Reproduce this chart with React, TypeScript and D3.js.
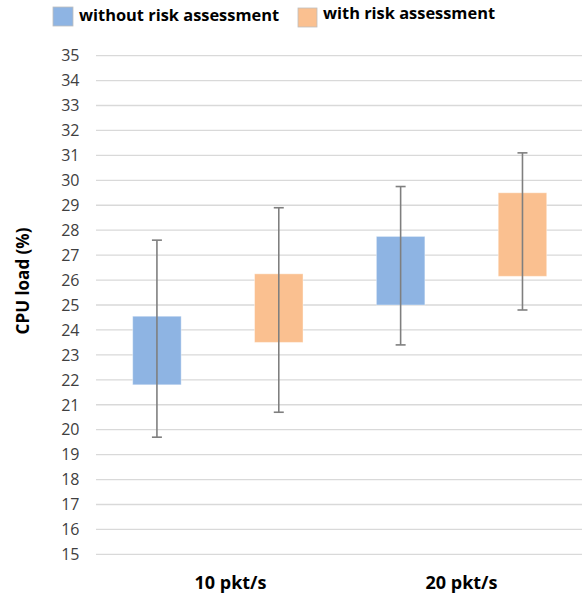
import React from "react";
import * as d3 from "d3";

const categories = ["10 pkt/s", "20 pkt/s"];
const seriesNames = ["without risk assessment", "with risk assessment"];
const boxLowWithout = [21.8, 25.0];
const boxHighWithout = [24.55, 27.75];
const errLowWithout = [19.7, 23.4];
const errHighWithout = [27.6, 29.75];
const boxLowWith = [23.5, 26.15];
const boxHighWith = [26.25, 29.5];
const errLowWith = [20.7, 24.8];
const errHighWith = [28.9, 31.1];
const yTicks = d3.range(15, 36, 1);
const colors = ["#8EB4E3", "#FAC090"];

const W = 582;
const H = 596;

export default function App() {
  const y = d3.scaleLinear().domain([15, 35]).range([554.4, 55.6]);
  const x = d3.scaleBand<string>().domain(categories).range([96, 583.4]).padding(0);
  const inner = d3.scaleBand<string>().domain(seriesNames).range([-x.bandwidth() / 2, x.bandwidth() / 2]);
  const labelX = d3.scalePoint<string>().domain(categories).range([230.5, 461.5]);
  const barW = 48.5;
  const font = "'Open Sans', 'DejaVu Sans', sans-serif";

  const data = [
    { name: seriesNames[0], lo: boxLowWithout, hi: boxHighWithout, elo: errLowWithout, ehi: errHighWithout, color: colors[0] },
    { name: seriesNames[1], lo: boxLowWith, hi: boxHighWith, elo: errLowWith, ehi: errHighWith, color: colors[1] },
  ];

  return (
    <svg width={W} height={H} style={{ position: "absolute", left: 0, top: 0, background: "#fff" }}>
      {yTicks.map((t) => (
        <line key={"g" + t} x1={96} x2={W} y1={y(t)} y2={y(t)} stroke="#d9d9d9" strokeWidth={1.3} />
      ))}
      {yTicks.map((t) => (
        <text key={"t" + t} x={79.5} y={y(t)} dy="0.36em" textAnchor="end" fontFamily={font} fontSize={16} fill="#404040">
          {t}
        </text>
      ))}
      <text
        transform={`translate(28.5,281) rotate(-90)`}
        textAnchor="middle"
        fontFamily={font}
        fontWeight="bold"
        fontSize={17}
        fill="#000"
      >
        CPU load (%)
      </text>
      {data.map((s) =>
        categories.map((c, i) => {
          const cx = (x(c) as number) + x.bandwidth() / 2 + (inner(s.name) as number) + inner.bandwidth() / 2;
          return (
            <g key={s.name + c}>
              <rect
                x={cx - barW / 2}
                y={y(s.hi[i])}
                width={barW}
                height={y(s.lo[i]) - y(s.hi[i])}
                fill={s.color}
                stroke="#fff"
                strokeOpacity={0.4}
                strokeWidth={1}
              />
              <line x1={cx} x2={cx} y1={y(s.ehi[i])} y2={y(s.elo[i])} stroke="#7f7f7f" strokeWidth={1.6} />
              <line x1={cx - 5} x2={cx + 5} y1={y(s.ehi[i])} y2={y(s.ehi[i])} stroke="#7f7f7f" strokeWidth={1.6} />
              <line x1={cx - 5} x2={cx + 5} y1={y(s.elo[i])} y2={y(s.elo[i])} stroke="#7f7f7f" strokeWidth={1.6} />
            </g>
          );
        })
      )}
      {categories.map((c) => (
        <text key={c} x={labelX(c)} y={589} textAnchor="middle" fontFamily={font} fontWeight="bold" fontSize={18} fill="#000">
          {c}
        </text>
      ))}
      <rect x={53} y={7} width={20} height={19} fill={colors[0]} stroke="#bfbfbf" strokeWidth={0.8} />
      <text x={79} y={21} fontFamily={font} fontWeight="bold" fontSize={16.4} fill="#000">
        {seriesNames[0]}
      </text>
      <rect x={298} y={8} width={19} height={19} fill={colors[1]} stroke="#bfbfbf" strokeWidth={0.8} />
      <text x={323} y={19} fontFamily={font} fontWeight="bold" fontSize={16.4} fill="#000">
        {seriesNames[1]}
      </text>
    </svg>
  );
}
